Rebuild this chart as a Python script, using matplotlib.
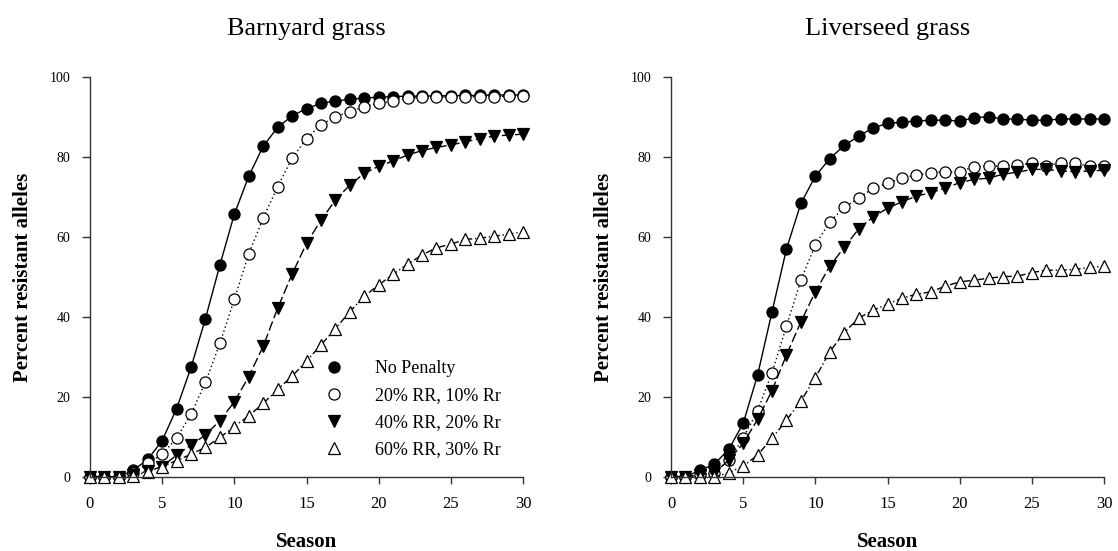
import numpy as np
import matplotlib
matplotlib.use("Agg")
import matplotlib.pyplot as plt
from matplotlib.lines import Line2D

plt.rcParams['font.family'] = ['Liberation Serif', 'DejaVu Serif']

seasons = np.arange(31)

series_labels = ["No Penalty", "20% RR, 10% Rr", "40% RR, 20% Rr", "60% RR, 30% Rr"]

# Barnyard grass
barn_none = [0, 0, 0, 1.7, 4.4, 9.1, 17.1, 27.4, 39.6, 53.0, 65.7, 75.2, 82.7, 87.4,
             90.3, 92.1, 93.4, 94.0, 94.4, 94.8, 94.9, 95.1, 95.2, 95.2, 95.3, 95.3,
             95.4, 95.4, 95.5, 95.5, 95.5]
barn_20 = [0, 0, 0, 1.0, 3.4, 5.7, 9.7, 15.7, 23.7, 33.4, 44.4, 55.8, 64.7, 72.6,
           79.7, 84.6, 88.0, 90.1, 91.3, 92.6, 93.4, 94.0, 94.7, 94.9, 95.0, 95.0,
           95.0, 95.1, 95.1, 95.2, 95.2]
barn_40 = [0, 0, 0, 0.5, 1.5, 2.6, 5.5, 8.0, 10.5, 14.1, 18.8, 25.1, 32.7, 42.2,
           50.7, 58.4, 64.2, 69.2, 73.0, 75.9, 77.7, 79.0, 80.5, 81.6, 82.4, 83.0,
           83.8, 84.6, 85.2, 85.5, 85.7]
barn_60 = [0, 0, 0, 0.3, 1.3, 2.6, 4.1, 5.7, 7.4, 9.9, 12.6, 15.3, 18.4, 21.9,
           25.2, 29.0, 33.0, 37.1, 41.3, 45.2, 48.0, 50.7, 53.2, 55.5, 57.3, 58.2,
           59.4, 59.7, 60.2, 60.7, 61.3]

# Liverseed grass
liver_none = [0, 0, 1.7, 3.2, 6.9, 13.4, 25.5, 41.3, 57.0, 68.4, 75.2, 79.6, 82.9,
              85.2, 87.3, 88.4, 88.7, 89.0, 89.2, 89.2, 89.0, 89.8, 90.1, 89.5, 89.5,
              89.2, 89.2, 89.5, 89.5, 89.5, 89.5]
liver_20 = [0, 0, 0.5, 1.0, 4.2, 9.7, 16.6, 26.1, 37.7, 49.2, 58.0, 63.8, 67.4,
            69.7, 72.2, 73.4, 74.7, 75.5, 76.1, 76.3, 76.3, 77.6, 77.7, 77.7, 78.0,
            78.4, 77.7, 78.6, 78.4, 77.7, 77.7]
liver_40 = [0, 0, 0.5, 1.0, 4.2, 8.4, 14.4, 21.6, 30.5, 38.8, 46.3, 52.7, 57.4,
            62.0, 65.0, 67.2, 68.8, 70.2, 71.1, 72.2, 73.6, 74.4, 74.7, 75.7, 76.2,
            76.9, 76.9, 76.5, 76.3, 76.5, 76.7]
liver_60 = [0, 0, 0, 0, 1.1, 2.7, 5.5, 9.7, 14.2, 19.0, 24.8, 31.3, 36.1, 39.7,
            41.7, 43.2, 44.7, 45.7, 46.3, 47.7, 48.8, 49.2, 49.7, 50.1, 50.2, 51.1,
            51.7, 51.7, 51.9, 52.4, 52.7]

panels = [
    ("Barnyard grass", [barn_none, barn_20, barn_40, barn_60]),
    ("Liverseed grass", [liver_none, liver_20, liver_40, liver_60]),
]

styles = [
    dict(marker='o', mfc='black', linestyle='-'),
    dict(marker='o', mfc='white', linestyle=(0, (1, 2))),
    dict(marker='v', mfc='black', linestyle=(0, (7, 2.5))),
    dict(marker='^', mfc='white', linestyle=(0, (5, 2, 1, 2))),
]

MS = 8

fig = plt.figure(figsize=(11.18, 5.51), dpi=100)
lefts = [90 / 1118, 671 / 1118]
for (title, data), left in zip(panels, lefts):
    ax = fig.add_axes([left, 74 / 551, 433 / 1118, 400 / 551])
    for vals, st, lab in zip(data, styles, series_labels):
        ax.plot(seasons, vals, color='black', lw=1.0, marker=st['marker'],
                markersize=MS, markerfacecolor=st['mfc'], markeredgecolor='black',
                markeredgewidth=0.9, linestyle=st['linestyle'], clip_on=False,
                label=lab)
    ax.set_xlim(0, 30)
    ax.set_ylim(0, 100)
    ax.set_xticks([0, 5, 10, 15, 20, 25, 30])
    ax.set_yticks([0, 20, 40, 60, 80, 100])
    for s in ['top', 'right']:
        ax.spines[s].set_visible(False)
    for s in ['left', 'bottom']:
        ax.spines[s].set_color('#333333')
        ax.spines[s].set_linewidth(1.0)
    ax.tick_params(axis='y', direction='out', length=6, width=1.0, color='#333333',
                   labelsize=10, pad=8)
    ax.tick_params(axis='x', direction='out', length=5, width=1.0, color='#333333',
                   labelsize=12, pad=9)
    ax.set_xlabel("Season", fontsize=15, fontweight='bold', labelpad=14)
    ax.set_ylabel("Percent resistant alleles", fontsize=15, fontweight='bold',
                  labelpad=12)
    ax.set_title(title, fontsize=19, pad=30)
    if title == "Barnyard grass":
        leg_handles = [Line2D([], [], linestyle='none', marker=st['marker'],
                              markersize=MS, markerfacecolor=st['mfc'],
                              markeredgecolor='black', markeredgewidth=0.9)
                       for st in styles]
        ax.legend(leg_handles, series_labels, loc='upper left',
                  bbox_to_anchor=(0.505, 0.31), frameon=False, fontsize=13,
                  handletextpad=1.3, labelspacing=0.55, borderaxespad=0)

fig.savefig("out.png", dpi=100)
